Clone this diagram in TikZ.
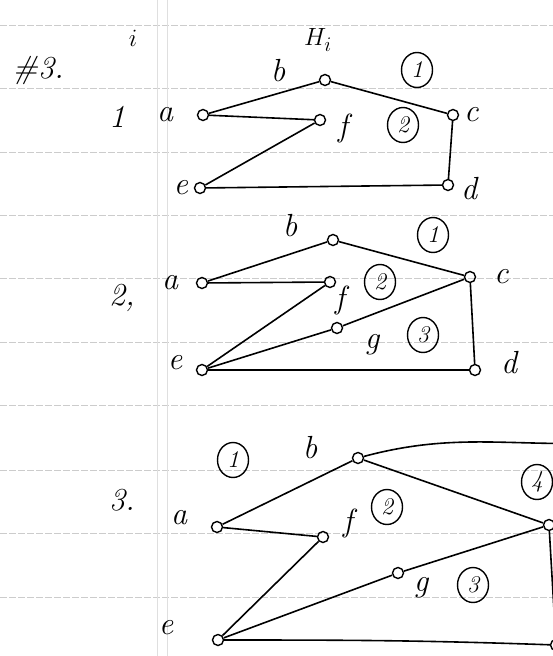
\documentclass[tikz,border=0pt]{standalone}
\usetikzlibrary{positioning}
\tikzset{
  every picture/.style={line width=1.6pt},
  vtx/.style={circle, draw, inner sep=0pt, minimum size=11pt, line width=1.4pt},
  lbl/.style={font=\fontsize{32}{36}\selectfont\itshape, inner sep=1pt},
  num/.style={ellipse, draw, inner sep=0pt, minimum width=31pt, minimum height=35pt, line width=1.4pt, font=\fontsize{24}{28}\selectfont\itshape},
  ruling/.style={gray!40, line width=0.6pt, dash pattern=on 7pt off 2pt},
  edge/.style={line width=1.6pt},
}
\usetikzlibrary{shapes.geometric}
\begin{document}
\begin{tikzpicture}[x=1pt, y=-1pt]
  \useasboundingbox (0,0) rectangle (553,656);
  \clip (0,0) rectangle (553,656);
  % notebook paper
  \foreach \y in {25,88,152,215,278,342,405,470,533,597}
    \draw[ruling] (0,\y) -- (553,\y);
  \draw[gray!25, line width=0.5pt] (157,0) -- (157,656);
  \draw[gray!25, line width=0.5pt] (167,0) -- (167,656);

  % header
  \node[lbl] (hash) at (38,70) {\#3.};
  \node[lbl] (icol) at (133,38) {$i$};
  \node[lbl] (hcol) at (318,40) {$H_i$};

  % step 1
  \node[lbl] (s1) at (117,117) {1};
  \node[vtx] (a1) at (203,115) {};
  \node[vtx] (b1) at (325,80) {};
  \node[vtx] (c1) at (453,115) {};
  \node[vtx] (d1) at (448,185) {};
  \node[vtx] (e1) at (200,188) {};
  \node[vtx] (f1) at (320,120) {};
  \node[lbl, left=22pt of a1] (la1) {a};
  \node[lbl] (lb1) at (278,71) {b};
  \node[lbl, right=3pt of c1] (lc1) {c};
  \node[lbl, right=5pt of d1, yshift=-4pt] (ld1) {d};
  \node[lbl, left=4pt of e1] (le1) {e};
  \node[lbl] (lf1) at (343,128) {f};
  \node[num] (r11) at (417,70) {1};
  \node[num] (r12) at (403,125) {2};
  \foreach \u/\v in {a1/b1, b1/c1, a1/f1, f1/e1, e1/d1, c1/d1}
    \draw[edge] (\u) -- (\v);

  % step 2
  \node[lbl] (s2) at (122,298) {2,};
  \node[vtx] (a2) at (202,283) {};
  \node[vtx] (b2) at (333,240) {};
  \node[vtx] (c2) at (470,277) {};
  \node[vtx] (d2) at (475,370) {};
  \node[vtx] (e2) at (202,370) {};
  \node[vtx] (f2) at (330,282) {};
  \node[vtx] (g2) at (337,328) {};
  \node[lbl, left=16pt of a2] (la2) {a};
  \node[lbl] (lb2) at (290,226) {b};
  \node[lbl, right=16pt of c2] (lc2) {c};
  \node[lbl, right=18pt of d2, yshift=7pt] (ld2) {d};
  \node[lbl] (le2) at (175,363) {e};
  \node[lbl] (lf2) at (340,300) {f};
  \node[lbl] (lg2) at (372,345) {g};
  \node[num] (r21) at (433,235) {1};
  \node[num] (r22) at (380,282) {2};
  \node[num] (r23) at (423,335) {3};
  \foreach \u/\v in {a2/b2, b2/c2, a2/f2, f2/e2, e2/g2, g2/c2, c2/d2, e2/d2}
    \draw[edge] (\u) -- (\v);

  % step 3
  \node[lbl] (s3) at (122,500) {3.};
  \node[vtx] (a3) at (217,527) {};
  \node[vtx] (b3) at (358,458) {};
  \node[vtx] (c3) at (549,525) {};
  \node[vtx] (d3) at (556,645) {};
  \node[vtx] (e3) at (218,640) {};
  \node[vtx] (f3) at (323,537) {};
  \node[vtx] (g3) at (398,573) {};
  \coordinate (off3) at (600,443);
  \node[lbl] (la3) at (179,518) {a};
  \node[lbl] (lb3) at (310,448) {b};
  \node[lbl] (le3) at (166,628) {e};
  \node[lbl] (lf3) at (348,523) {f};
  \node[lbl] (lg3) at (421,588) {g};
  \node[num] (r31) at (233,460) {1};
  \node[num] (r32) at (387,507) {2};
  \node[num] (r33) at (473,585) {3};
  \node[num] (r34) at (537,482) {4};
  \foreach \u/\v in {a3/b3, a3/f3, f3/e3, e3/g3, g3/c3, b3/c3, c3/d3}
    \draw[edge] (\u) -- (\v);
  \draw[edge] (b3) to[out=15, in=182] (off3);
  \draw[edge] (e3) to[out=0, in=178] (d3);
\end{tikzpicture}
\end{document}
